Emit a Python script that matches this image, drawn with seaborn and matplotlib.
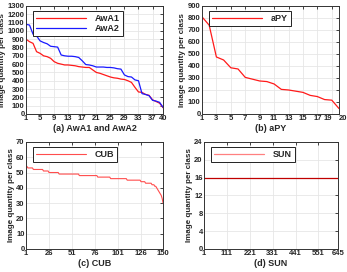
# Image quantity per class for the four ZSL datasets
import matplotlib
matplotlib.use("Agg")
import matplotlib.pyplot as plt
import seaborn as sns
import pandas as pd

sns.set_style("whitegrid")
plt.rcParams['font.family'] = ['Liberation Sans', 'DejaVu Sans']
plt.rcParams['font.weight'] = 'bold'
plt.rcParams['axes.labelweight'] = 'bold'

awa1 = [900, 870, 850, 750, 730, 700, 690, 670, 630, 610,
        600, 590, 590, 585, 580, 570, 565, 560, 560, 530,
        500, 490, 475, 460, 445, 435, 430, 420, 415, 400,
        380, 320, 265, 260, 235, 225, 170, 150, 130, 75]
awa2 = [1080, 1070, 960, 940, 880, 860, 845, 815, 810, 805,
        710, 700, 695, 695, 690, 680, 640, 595, 590, 580,
        565, 565, 565, 560, 560, 555, 545, 540, 470, 450,
        445, 410, 400, 245, 235, 220, 165, 155, 140, 80]
apy = [810, 740, 475, 450, 385, 375, 305, 290, 275, 270,
       250, 205, 200, 190, 180, 155, 145, 120, 115, 45]
cub = [54, 54, 53, 53, 53, 53, 53, 53, 52, 52,
       52, 52, 52, 52, 52, 52, 52, 52, 52, 51,
       51, 51, 51, 51, 51, 50, 50, 50, 50, 50,
       50, 50, 50, 50, 50, 50, 49, 49, 49, 49,
       49, 49, 49, 49, 49, 49, 49, 49, 49, 49,
       49, 49, 49, 49, 49, 49, 49, 49, 48, 48,
       48, 48, 48, 48, 48, 48, 48, 48, 48, 48,
       48, 48, 48, 48, 48, 48, 48, 48, 47, 47,
       47, 47, 47, 47, 47, 47, 47, 47, 47, 47,
       47, 47, 46, 46, 46, 46, 46, 46, 46, 46,
       46, 46, 46, 46, 46, 46, 46, 46, 46, 46,
       45, 45, 45, 45, 45, 45, 45, 45, 45, 45,
       45, 45, 45, 45, 45, 44, 44, 44, 44, 44,
       43, 43, 43, 43, 43, 43, 43, 42, 42, 42,
       41, 41, 40, 39, 38, 37, 36, 35, 33, 30]
sun = [16] * 645

fig = plt.figure(figsize=(3.47, 2.72), dpi=100)
pos = [[0.075, 0.581, 0.395, 0.397],
       [0.582, 0.581, 0.395, 0.397],
       [0.075, 0.085, 0.395, 0.393],
       [0.588, 0.085, 0.386, 0.393]]
axs = [fig.add_axes(p) for p in pos]


def style(ax, xlim, xticks, ylim, yticks, xlabel):
    ax.set_xlim(*xlim)
    ax.set_ylim(*ylim)
    ax.set_xticks(xticks)
    ax.set_yticks(yticks)
    ax.set_xlabel(xlabel, fontsize=6.5, labelpad=1)
    ax.set_ylabel("Image quantity per class", fontsize=5.8, labelpad=1)
    ax.tick_params(axis='both', labelsize=5.5, direction='in', length=2,
                   top=True, right=True, pad=1, width=0.6)
    ax.grid(True, color='#e6e6e6', linewidth=0.6)
    for s in ax.spines.values():
        s.set_color('#333333')
        s.set_linewidth(0.7)
    leg = ax.legend(loc='upper left', bbox_to_anchor=(0.05, 0.955), fontsize=6.5,
                    handlelength=5.5, fancybox=False, framealpha=1,
                    borderpad=0.35, labelspacing=0.1, handletextpad=1.0,
                    borderaxespad=0)
    leg.get_frame().set_edgecolor('#222222')
    leg.get_frame().set_linewidth(0.7)
    for t in leg.get_texts():
        t.set_fontweight('bold')


df = pd.DataFrame({"x": range(1, 41), "AwA1": awa1, "AwA2": awa2})
sns.lineplot(data=df, x="x", y="AwA1", ax=axs[0], color='#ff1a1a', lw=0.9, label="AwA1")
sns.lineplot(data=df, x="x", y="AwA2", ax=axs[0], color='#1a1aff', lw=0.9, label="AwA2")
style(axs[0], (1, 40), [1, 5, 9, 13, 17, 21, 25, 29, 33, 37, 40],
      (0, 1300), range(0, 1301, 100), "(a) AwA1 and AwA2")

sns.lineplot(x=range(1, 21), y=apy, ax=axs[1], color='#ff1a1a', lw=0.9, label="aPY")
style(axs[1], (1, 20), [1, 3, 5, 7, 9, 11, 13, 15, 17, 19, 20],
      (0, 900), range(0, 901, 100), "(b) aPY")
xl = axs[1].get_xticklabels()
xl[-2].set_ha('right')
xl[-1].set_ha('left')

sns.lineplot(x=range(1, 151), y=cub, ax=axs[2], color='#ff4d4d', lw=0.8, label="CUB")
style(axs[2], (1, 150), [1, 26, 51, 76, 101, 126, 150],
      (0, 70), range(0, 71, 10), "(c) CUB")

sns.lineplot(x=range(1, 646), y=sun, ax=axs[3], color='#c00000', lw=0.9, label="SUN")
style(axs[3], (1, 645), [1, 111, 221, 331, 441, 551, 645],
      (0, 24), range(0, 25, 4), "(d) SUN")
axs[3].get_legend().get_lines()[0].set_color('#ff8080')

fig.savefig("out.png", dpi=100)
